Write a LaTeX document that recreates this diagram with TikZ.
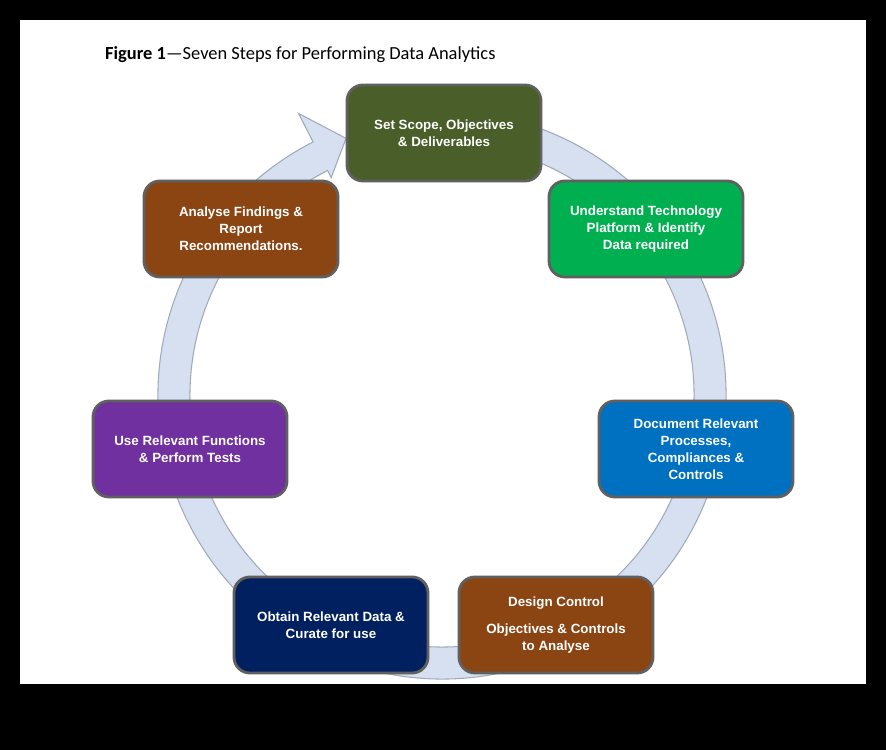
\documentclass[tikz,border=0pt]{standalone}
\usepackage{fontspec}
\setmainfont{Liberation Sans}
\newfontfamily\titlefont{Carlito}
\begin{document}
\begin{tikzpicture}[x=0.02cm,y=0.02cm,
  box/.style={draw=gray!75!black,line width=1.6pt,rounded corners=9pt,
    minimum width=194*0.02cm,minimum height=96*0.02cm,align=center,
    text=white,font=\fontsize{7.6}{9.6}\selectfont\bfseries,inner sep=2pt},
  ring/.style={fill={rgb,255:red,214;green,224;blue,240},draw={rgb,255:red,160;green,170;blue,185},line width=0.6pt}]
\fill[black] (0,0) rectangle (886,750);
\fill[white] (20,66) rectangle (866,730);
\useasboundingbox (0,0) rectangle (886,750);
\node[anchor=west,font=\titlefont\fontsize{10.5}{12}\selectfont] (title) at (99,695) {\textbf{Figure 1}—Seven Steps for Performing Data Analytics};
\begin{scope}[shift={(442,355)}]
\path[ring] (117:284) arc[start angle=117,end angle=440,radius=284] -- (440:252)
  arc[start angle=440,end angle=117,radius=252] -- (117:244) -- (110.5:274) -- (117:316) -- cycle;
\end{scope}
\node[box,fill={rgb,255:red,74;green,94;blue,42}] (s1) at (444,617) {Set Scope, Objectives\\\& Deliverables};
\node[box,fill={rgb,255:red,0;green,176;blue,80}] (s2) at (646,521) {Understand Technology\\Platform \& Identify\\Data required};
\node[box,fill={rgb,255:red,0;green,112;blue,192}] (s3) at (696,301) {Document Relevant\\Processes,\\Compliances \&\\Controls};
\node[box,fill={rgb,255:red,139;green,69;blue,19}] (s4) at (556,125) {Design Control\\[6pt]Objectives \& Controls\\to Analyse};
\node[box,fill={rgb,255:red,0;green,32;blue,96}] (s5) at (331,125) {Obtain Relevant Data \&\\Curate for use};
\node[box,fill={rgb,255:red,112;green,48;blue,160}] (s6) at (190,301) {Use Relevant Functions\\\& Perform Tests};
\node[box,fill={rgb,255:red,139;green,69;blue,19}] (s7) at (241,521) {Analyse Findings \&\\Report\\Recommendations.};
\end{tikzpicture}
\end{document}
